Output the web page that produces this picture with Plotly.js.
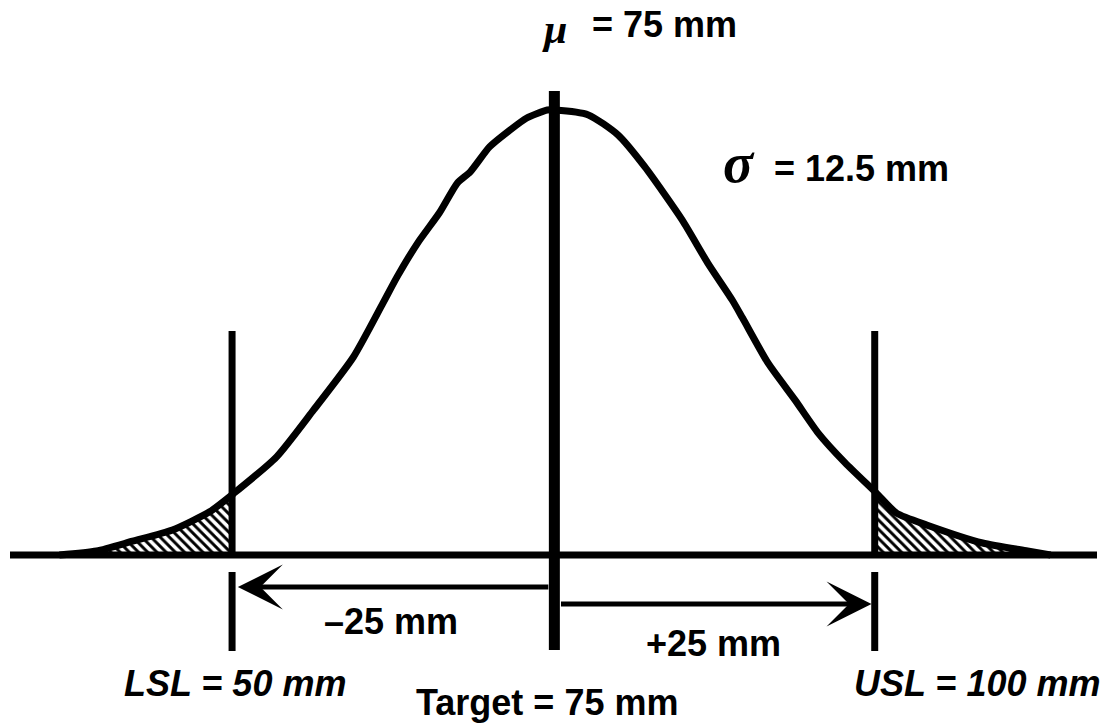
<!DOCTYPE html>
<html>
<head>
<meta charset="utf-8">
<script src="https://cdn.plot.ly/plotly-3.0.1.min.js"></script>
<style>html,body{margin:0;padding:0;background:#fff;}#chart{width:1110px;height:724px;}</style>
</head>
<body>
<div id="chart"></div>
<script>
// ---- data ----
const MEAN = 75;      // mm
const SIGMA = 12.5;   // mm
const LSL = 50;       // mm
const USL = 100;      // mm
const TARGET = 75;    // mm
// curve: x in mm, height relative to the peak (peak = 1)
const curveX = [36.4, 39.3, 42.1, 45.2, 48.1, 50.0, 53.3, 56.2, 59.3, 61.6, 62.7, 64.3, 66.0, 67.4, 68.4, 69.9, 71.5, 72.8, 74.4, 75.0, 77.6, 79.9, 82.0, 84.9, 86.9, 88.8, 89.6, 91.6, 93.7, 95.5, 97.6, 100.0, 101.6, 104.0, 108.3, 111.8, 113.6];
const curveH = [0.000, 0.009, 0.031, 0.056, 0.097, 0.139, 0.220, 0.326, 0.445, 0.566, 0.625, 0.701, 0.769, 0.836, 0.861, 0.917, 0.955, 0.982, 1.000, 1.000, 0.989, 0.944, 0.872, 0.753, 0.656, 0.573, 0.533, 0.431, 0.348, 0.274, 0.207, 0.140, 0.094, 0.067, 0.027, 0.009, 0.000];
const muLabel = "= " + MEAN + " mm";
const sigmaLabel = "= " + SIGMA + " mm";
const lslLabel = "LSL = " + LSL + " mm";
const uslLabel = "USL = " + USL + " mm";
const targetLabel = "Target = " + TARGET + " mm";
const minusLabel = "\u2013" + (TARGET - LSL) + " mm";
const plusLabel = "+" + (USL - TARGET) + " mm";

// ---- layout helpers (pixel -> paper) ----
const W = 1110, H = 724;
const px = v => v / W;
const py = v => 1 - v / H;
const PXMM = 12.84;           // pixels per mm
const X0 = 555;               // pixel of the mean
const BASE = 555, PEAK = 110; // pixel rows of 0 and 1
const xr = [MEAN - X0 / PXMM, MEAN + (W - X0) / PXMM];
const yr = [(BASE - H) / (BASE - PEAK), BASE / (BASE - PEAK)];

const leftX = [], leftY = [], rightX = [], rightY = [];
curveX.forEach((x, i) => {
  if (x <= LSL) { leftX.push(x); leftY.push(curveH[i]); }
  if (x >= USL) { rightX.push(x); rightY.push(curveH[i]); }
});

const pattern = {shape: '\\', size: 6.5, solidity: 0.45, fgcolor: '#000', bgcolor: '#fff', fillmode: 'replace'};
const traces = [
  {x: leftX, y: leftY, type: 'scatter', mode: 'lines', fill: 'tozeroy', fillpattern: pattern, fillcolor: '#fff', line: {width: 0, color: '#000'}, hoverinfo: 'skip'},
  {x: rightX, y: rightY, type: 'scatter', mode: 'lines', fill: 'tozeroy', fillpattern: pattern, fillcolor: '#fff', line: {width: 0, color: '#000'}, hoverinfo: 'skip'},
  {x: curveX, y: curveH, type: 'scatter', mode: 'lines', line: {color: '#000', width: 7, shape: 'spline', smoothing: 0.6}, hoverinfo: 'skip'}
];

const black = '#000';
const shapes = [
  // base axis
  {type: 'line', xref: 'paper', yref: 'paper', x0: px(10), x1: px(1097), y0: py(555), y1: py(555), line: {color: black, width: 7}},
  // target / mean line
  {type: 'line', xref: 'x', yref: 'paper', x0: TARGET - 0.05, x1: TARGET - 0.05, y0: py(91), y1: py(650), line: {color: black, width: 11}},
  // LSL line (upper and lower)
  {type: 'line', xref: 'x', yref: 'paper', x0: LSL - 0.15, x1: LSL - 0.15, y0: py(331), y1: py(555), line: {color: black, width: 7}},
  {type: 'line', xref: 'x', yref: 'paper', x0: LSL - 0.15, x1: LSL - 0.15, y0: py(572), y1: py(651), line: {color: black, width: 7}},
  // USL line (upper and lower)
  {type: 'line', xref: 'x', yref: 'paper', x0: USL - 0.1, x1: USL - 0.1, y0: py(331), y1: py(555), line: {color: black, width: 7}},
  {type: 'line', xref: 'x', yref: 'paper', x0: USL - 0.1, x1: USL - 0.1, y0: py(572), y1: py(651), line: {color: black, width: 7}}
];

const sans = 'Liberation Sans, Arial, sans-serif';
const serif = 'Liberation Serif, Times New Roman, serif';
const fs = 36;
function txt(text, x, y, opts) {
  return Object.assign({text: text, xref: 'paper', yref: 'paper', x: px(x), y: py(y), xanchor: 'center', yanchor: 'middle', showarrow: false,
    font: Object.assign({family: sans, size: fs, color: black, weight: 700}, (opts && opts.font) || {})}, opts && opts.extra || {});
}
const annotations = [
  txt('\u03bc', 554, 29, {font: {family: serif, size: 42, style: 'italic', weight: 700}}),
  txt(muLabel, 664, 24),
  txt('\u03c3', 739, 163, {font: {family: serif, size: 56, style: 'italic', weight: 700}}),
  txt(sigmaLabel, 861, 169),
  txt(minusLabel, 391, 621),
  txt(plusLabel, 713, 643),
  txt(lslLabel, 235, 683, {font: {style: 'italic'}}),
  txt(targetLabel, 547, 702),
  txt(uslLabel, 977, 683, {font: {style: 'italic'}}),
  // arrows
  {xref: 'x', yref: 'paper', axref: 'x', ayref: 'paper', x: LSL + 0.3, y: py(587), ax: TARGET - 0.4, ay: py(587), text: '', showarrow: true, arrowhead: 3, arrowsize: 1.5, arrowwidth: 5, arrowcolor: black},
  {xref: 'x', yref: 'paper', axref: 'x', ayref: 'paper', x: USL - 0.35, y: py(604), ax: TARGET + 0.35, ay: py(604), text: '', showarrow: true, arrowhead: 3, arrowsize: 1.5, arrowwidth: 5, arrowcolor: black}
];

const layout = {
  width: W, height: H,
  margin: {l: 0, r: 0, t: 0, b: 0, pad: 0},
  paper_bgcolor: '#fff', plot_bgcolor: '#fff',
  showlegend: false,
  xaxis: {range: xr, visible: false, fixedrange: true},
  yaxis: {range: yr, visible: false, fixedrange: true},
  shapes: shapes,
  annotations: annotations
};
Plotly.newPlot('chart', traces, layout, {staticPlot: true, displayModeBar: false});
</script>
</body>
</html>
